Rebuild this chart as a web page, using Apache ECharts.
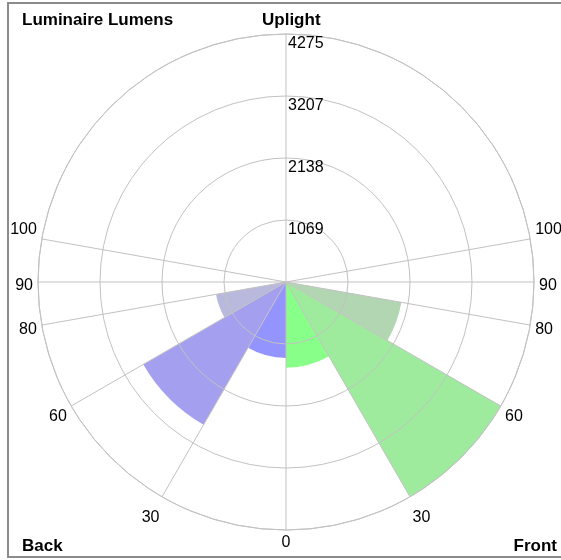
<!DOCTYPE html>
<html><head><meta charset="utf-8">
<script src="https://cdn.jsdelivr.net/npm/echarts@6/dist/echarts.min.js"></script>
<style>html,body{margin:0;padding:0;background:#fff}#c{width:561px;height:560px}</style>
</head><body><div id="c"></div>
<script>
// ---- data ----
const zoneStart = [0, 30, 60];          // zone start angle (deg from nadir)
const zoneEnd = [30, 60, 80];           // zone end angle (deg from nadir)
const frontLumens = [1480, 4275, 2020];
const backLumens = [1310, 2840, 1225];
const frontColors = ['#88ff88', '#9eeb9e', '#b2d6b2'];
const backColors = ['#9494ff', '#a49fef', '#b9b9dd'];
const spokeAngles = [0, 30, 60, 80, 90, 100, 180];
const spokeLabels = ['0', '30', '60', '80', '90', '100', ''];
const radiusMax = 4275;
const radiusTickLabels = ['', '1069', '2138', '3207', '4275'];

// angle axis: degrees clockwise from top (uplight); nadir angle = distance from bottom
const nadirOf = v => (v <= 180 ? 180 - v : v - 180);
const gridColor = '#c2c2c2';
const spokeColors = [];
for (let v = 0; v <= 360; v += 10) spokeColors.push(spokeAngles.indexOf(nadirOf(v)) >= 0 ? gridColor : 'rgba(0,0,0,0)');

const seriesData = [];
for (let i = 0; i < zoneStart.length; i++) {
  seriesData.push({ value: [frontLumens[i], 180 - zoneStart[i], 180 - zoneEnd[i]], itemStyle: { color: frontColors[i] } });
  seriesData.push({ value: [backLumens[i], 180 + zoneStart[i], 180 + zoneEnd[i]], itemStyle: { color: backColors[i] } });
}

const labelFont = "'Liberation Sans', Arial, sans-serif";
const boldFont = "'Liberation Sans', Arial, sans-serif";

const chart = echarts.init(document.getElementById('c'), null, { renderer: 'canvas' });
chart.setOption({
  backgroundColor: '#fff',
  animation: false,
  title: [
    { text: 'Luminaire Lumens', left: 22, top: 12, padding: 0, textStyle: { fontSize: 17, fontWeight: 'bold', fontFamily: boldFont, color: '#000' } },
    { text: 'Uplight', left: 262, top: 12, padding: 0, textStyle: { fontSize: 17, fontWeight: 'bold', fontFamily: boldFont, color: '#000' } },
    { text: 'Back', left: 22, top: 538, padding: 0, textStyle: { fontSize: 17, fontWeight: 'bold', fontFamily: boldFont, color: '#000' } },
    { text: 'Front', right: 4, top: 538, padding: 0, textStyle: { fontSize: 17, fontWeight: 'bold', fontFamily: boldFont, color: '#000' } }
  ],
  graphic: [
    { type: 'rect', shape: { x: 8, y: 3, width: 560, height: 554 }, style: { fill: null, stroke: '#8c8c8c', lineWidth: 2 }, z: 100, silent: true }
  ],
  polar: { center: [286, 282], radius: 248 },
  angleAxis: {
    type: 'value',
    min: 0,
    max: 360,
    interval: 10,
    startAngle: 90,
    clockwise: true,
    z: 10,
    axisLine: { show: true, lineStyle: { color: gridColor, width: 1 } },
    axisTick: { show: false },
    splitLine: { show: true, lineStyle: { color: spokeColors, width: 1 } },
    axisLabel: {
      margin: 5,
      color: '#000',
      fontSize: 16,
      fontFamily: labelFont,
      formatter: (val) => {
        const n = nadirOf(Number(val));
        const k = spokeAngles.indexOf(n);
        if (k < 0 || !spokeLabels[k]) return '';
        if (n === 100) return '{u|' + spokeLabels[k] + '}';
        if (n === 90 || n === 80 || n === 30) return '{d|' + spokeLabels[k] + '}';
        return spokeLabels[k];
      },
      rich: {
        u: { fontSize: 16, fontFamily: labelFont, color: '#000', padding: [0, 0, 16, 0] },
        d: { fontSize: 16, fontFamily: labelFont, color: '#000', padding: [8, 0, 0, 0] }
      }
    }
  },
  radiusAxis: {
    type: 'value',
    min: 0,
    max: radiusMax,
    interval: radiusMax / 4,
    z: 10,
    axisLine: { show: false },
    axisTick: { show: false },
    splitLine: { show: true, lineStyle: { color: gridColor, width: 1 } },
    axisLabel: {
      showMinLabel: false,
      align: 'left',
      verticalAlign: 'top',
      margin: -2,
      padding: [2, 0, 0, 0],
      color: '#000',
      fontSize: 16,
      fontFamily: labelFont,
      formatter: (v, i) => radiusTickLabels[i]
    }
  },
  series: [{
    type: 'custom',
    coordinateSystem: 'polar',
    z: 2,
    encode: { radius: 0, angle: 1 },
    data: seriesData,
    renderItem: (params, api) => {
      const cs = params.coordSys;
      const cx = cs.cx, cy = cs.cy;
      const val = api.value(0), a1v = api.value(1), a2v = api.value(2);
      const p = api.coord([val, a1v]);
      const r = Math.hypot(p[0] - cx, p[1] - cy);
      const q1 = api.coord([radiusMax, a1v]);
      const q2 = api.coord([radiusMax, a2v]);
      const a1 = Math.atan2(q1[1] - cy, q1[0] - cx);
      const a2 = Math.atan2(q2[1] - cy, q2[0] - cx);
      return {
        type: 'sector',
        shape: { cx: cx, cy: cy, r0: 0, r: r, startAngle: Math.min(a1, a2), endAngle: Math.max(a1, a2), clockwise: true },
        style: { fill: api.visual('color') }
      };
    }
  }]
});
</script></body></html>
